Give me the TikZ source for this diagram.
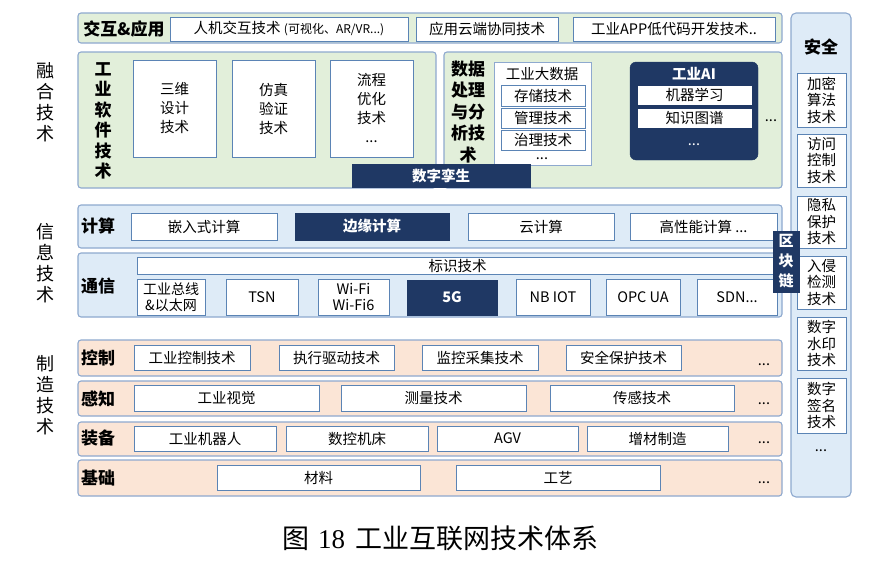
\documentclass[tikz,border=0pt]{standalone}
\usepackage{fontspec}
\setmainfont{Noto Sans CJK SC}
\newfontfamily\capserif{Liberation Serif}
\definecolor{grn}{HTML}{E2EFDA}
\definecolor{blu}{HTML}{DEEBF7}
\definecolor{pch}{HTML}{FBE5D6}
\definecolor{navy}{HTML}{1F3864}
\definecolor{rowline}{HTML}{8EA9CF}
\definecolor{boxline}{HTML}{5B84B5}
\newcommand\bodyfont{\fontsize{14.5}{16.5}\selectfont}
\newcommand\tallfont{\fontsize{14.5}{19}\selectfont}
\newcommand\smallfont{\fontsize{12}{14}\selectfont}
\newcommand\labfont{\fontsize{17}{20.5}\selectfont\bfseries}
\newcommand\sidefont{\fontsize{18}{21}\selectfont}
\newcommand\bx[7]{\node[#1, minimum width={#5-#3}, minimum height={#6-#4}] (#2) at ({(#3+#5)/2},{(#4+#6)/2}) {#7};}
\tikzset{
  rowg/.style={draw=rowline, fill=grn, line width=1.1pt, rounded corners=3pt, inner sep=0pt},
  rowb/.style={draw=rowline, fill=blu, line width=1.1pt, rounded corners=3pt, inner sep=0pt},
  rowp/.style={draw=rowline, fill=pch, line width=1.1pt, rounded corners=3pt, inner sep=0pt},
  wbox/.style={draw=boxline, fill=white, line width=0.9pt, inner sep=0pt, align=center, font=\bodyfont},
  lbox/.style={draw=rowline, fill=white, line width=0.8pt, inner sep=0pt},
  dbox/.style={draw=navy, fill=navy, text=white, inner sep=0pt, align=center, font=\bodyfont\bfseries},
  rlabel/.style={font=\labfont, inner sep=0pt, align=center},
  slabel/.style={font=\sidefont, inner sep=0pt, align=center},
  dots/.style={inner sep=0pt, font=\bodyfont}
}
\begin{document}
\begin{tikzpicture}[x=1pt,y=-1pt]
\useasboundingbox[fill=white] (0,0) rectangle (893,562);

% side labels
\node[slabel] (lrh) at (45,102) {融\\合\\技\\术};
\node[slabel] (lxx) at (45,263) {信\\息\\技\\术};
\node[slabel] (lzz) at (45,395) {制\\造\\技\\术};

% security column
\bx{rowb, rounded corners=5pt}{sec}{791}{13}{851}{497}{}
\node[rlabel] (secl) at (821,47) {安全};
\bx{wbox}{s1}{797}{73}{846}{127}{加密\\算法\\技术}
\bx{wbox}{s2}{797}{134}{846}{187}{访问\\控制\\技术}
\bx{wbox}{s3}{797}{196}{846}{248}{隐私\\保护\\技术}
\bx{wbox}{s4}{797}{256}{846}{309}{入侵\\检测\\技术}
\bx{wbox}{s5}{797}{317}{846}{370}{数字\\水印\\技术}
\bx{wbox}{s6}{797}{378}{846}{433}{数字\\签名\\技术}
\node[dots] (sdots) at (821,451) {...};

% interaction & application
\bx{rowg}{app}{78}{13}{782}{43}{}
\node[rlabel] (appl) at (124,29) {交互\&应用};
\bx{wbox}{a1}{170}{17}{408}{41}{人机交互技术 {\smallfont(可视化、AR/VR...)}}
\bx{wbox}{a2}{416}{17}{558}{41}{应用云端协同技术}
\bx{wbox}{a3}{573}{17}{775}{41}{工业APP低代码开发技术..}

% industrial software
\bx{rowg}{sw}{78}{52}{436}{188}{}
\node[rlabel] (swl) at (103,121) {工\\业\\软\\件\\技\\术};
\bx{wbox, font=\tallfont}{w1}{133}{60}{216}{157}{三维\\设计\\技术}
\bx{wbox, font=\tallfont}{w2}{232}{60}{315}{157}{仿真\\验证\\技术}
\bx{wbox, font=\tallfont}{w3}{330}{60}{413}{157}{流程\\优化\\技术\\...}

% data processing
\bx{rowg}{dp}{444}{52}{782}{188}{}
\node[rlabel, font=\fontsize{17}{21.5}\selectfont\bfseries] (dpl) at (468,112) {数据\\处理\\与分\\析技\\术};
\bx{lbox}{bd}{494}{62}{591}{165}{}
\node[inner sep=0pt, font=\bodyfont] (bdl) at (542,74) {工业大数据};
\bx{wbox}{b1}{501}{85}{585}{106}{存储技术}
\bx{wbox}{b2}{501}{108}{585}{128}{管理技术}
\bx{wbox}{b3}{501}{130}{585}{150}{治理技术}
\node[dots] (bdots) at (542,159) {...};
\bx{dbox, rounded corners=6pt}{ai}{630}{62}{758}{160}{}
\node[inner sep=0pt, font=\bodyfont\bfseries, text=white] (ail) at (694,74) {工业AI};
\bx{wbox, draw=navy}{ai1}{637}{85}{752}{105}{机器学习}
\bx{wbox, draw=navy}{ai2}{637}{108}{752}{128}{知识图谱}
\node[dots, text=white] (aidots) at (694,145) {...};
\node[dots] (dpdots) at (771,121) {...};
\bx{dbox}{twin}{352}{164}{530}{187}{数字孪生}

% computing
\bx{rowb}{cp}{78}{205}{782}{248}{}
\node[rlabel] (cpl) at (98,226) {计算};
\bx{wbox}{c1}{131}{213}{277}{240}{嵌入式计算}
\bx{dbox}{c2}{295}{213}{449}{240}{边缘计算}
\bx{wbox}{c3}{468}{213}{614}{240}{云计算}
\bx{wbox}{c4}{630}{213}{777}{240}{高性能计算 ...}

% communication
\bx{rowb}{cm}{78}{253}{782}{317}{}
\node[rlabel] (cml) at (98,286) {通信};
\bx{wbox}{idt}{137}{257}{778}{274}{标识技术}
\bx{wbox, font=\fontsize{14}{16}\selectfont}{m1}{137}{279}{205}{315}{工业总线\\\&以太网}
\bx{wbox}{m2}{226}{279}{298}{315}{TSN}
\bx{wbox}{m3}{318}{279}{389}{315}{Wi-Fi\\Wi-Fi6}
\bx{dbox}{m4}{407}{280}{497}{315}{5G}
\bx{wbox}{m5}{516}{279}{590}{315}{NB IOT}
\bx{wbox}{m6}{606}{279}{680}{315}{OPC UA}
\bx{wbox}{m7}{697}{279}{777}{315}{SDN...}

% blockchain
\bx{dbox, font=\fontsize{15}{20}\selectfont\bfseries}{bc}{773}{231}{799}{292}{区\\块\\链}

% control
\bx{rowp}{ct}{78}{340}{782}{376}{}
\node[rlabel] (ctl) at (98,358) {控制};
\bx{wbox}{k1}{134}{345}{250}{370}{工业控制技术}
\bx{wbox}{k2}{279}{345}{394}{370}{执行驱动技术}
\bx{wbox}{k3}{422}{345}{538}{370}{监控采集技术}
\bx{wbox}{k4}{566}{345}{681}{370}{安全保护技术}
\node[dots] (kdots) at (764,365) {...};

% perception
\bx{rowp}{pc}{78}{381}{782}{416}{}
\node[rlabel] (pcl) at (98,399) {感知};
\bx{wbox}{p1}{134}{385}{319}{411}{工业视觉}
\bx{wbox}{p2}{341}{385}{526}{411}{测量技术}
\bx{wbox}{p3}{550}{385}{734}{411}{传感技术}
\node[dots] (pdots) at (764,404) {...};

% equipment
\bx{rowp}{eq}{78}{422}{782}{456}{}
\node[rlabel] (eql) at (98,438) {装备};
\bx{wbox}{e1}{134}{426}{276}{451}{工业机器人}
\bx{wbox}{e2}{286}{426}{428}{451}{数控机床}
\bx{wbox}{e3}{437}{426}{578}{451}{AGV}
\bx{wbox}{e4}{587}{426}{728}{451}{增材制造}
\node[dots] (edots) at (764,443) {...};

% foundation
\bx{rowp}{fd}{78}{460}{782}{496}{}
\node[rlabel] (fdl) at (98,478) {基础};
\bx{wbox}{f1}{217}{465}{420}{490}{材料}
\bx{wbox}{f2}{456}{465}{660}{490}{工艺}
\node[dots] (fdots) at (764,483) {...};

% caption
\node[inner sep=0pt, font=\fontsize{27}{30}\selectfont] (cap) at (440,538) {图\hspace{9pt}{\capserif 18}\hspace{10pt}工业互联网技术体系};
\end{tikzpicture}
\end{document}
